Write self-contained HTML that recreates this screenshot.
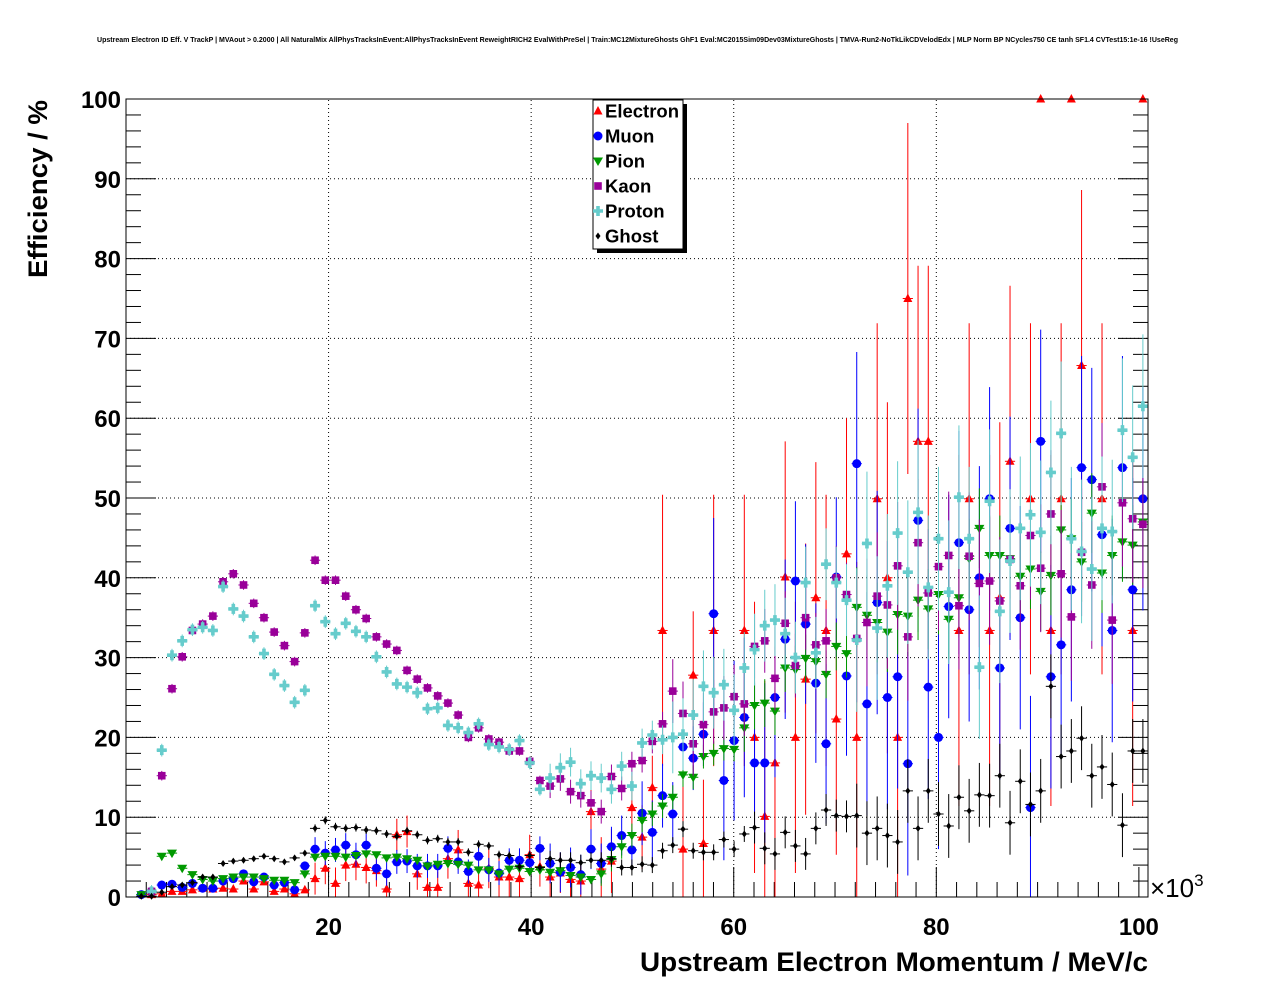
<!DOCTYPE html>
<html><head><meta charset="utf-8"><style>
html,body{margin:0;padding:0;background:#fff;}
svg{display:block;font-family:"Liberation Sans",Arial,sans-serif;}
</style></head><body>
<svg id="chart" width="1276" height="996" viewBox="0 0 1276 996" xmlns="http://www.w3.org/2000/svg">
<rect x="0" y="0" width="1276" height="996" fill="#fff"/>
<text x="97" y="42" font-size="7" font-weight="bold" textLength="1081" lengthAdjust="spacingAndGlyphs">Upstream Electron ID Eff. V TrackP | MVAout &gt; 0.2000 | All NaturalMix AllPhysTracksInEvent:AllPhysTracksInEvent ReweightRICH2 EvalWithPreSel | Train:MC12MixtureGhosts GhF1 Eval:MC2015Sim09Dev03MixtureGhosts | TMVA-Run2-NoTkLikCDVelodEdx | MLP Norm BP NCycles750 CE tanh SF1.4 CVTest15:1e-16 !UseReg</text>
<g id="grid"></g>
<g id="axes"></g>
<g id="series"></g>
<rect x="126" y="99" width="1022" height="798" fill="none" stroke="#000" stroke-width="1"/>
<text transform="translate(47,278) rotate(-90)" font-size="27" font-weight="bold" textLength="178" lengthAdjust="spacingAndGlyphs">Efficiency / %</text>
<text x="640" y="971" font-size="27" font-weight="bold" textLength="508" lengthAdjust="spacingAndGlyphs">Upstream Electron Momentum / MeV/c</text>
<text x="1150" y="897" font-size="26">×10<tspan font-size="17" dy="-11">3</tspan></text>
<g id="legend">
<rect x="597" y="104" width="90" height="149" fill="#000"/>
<rect x="593" y="100" width="90" height="149" fill="#fff" stroke="#000" stroke-width="1"/>
</g>
</svg>
<script>
// ---- data (efficiency %, bins of ~1 GeV, index 0..99) ----
const binWidth = 1.009; // GeV per bin (x10^3 MeV)
const xTicks = [20, 40, 60, 80, 100];
const yTicks = [0, 10, 20, 30, 40, 50, 60, 70, 80, 90, 100];
const seriesNames = ["Electron", "Muon", "Pion", "Kaon", "Proton", "Ghost"];
const N = null;
const electron = [N,N,0.3,0.4,0.7,0.7,0.9,1.1,1.0,1.1,1.0,2.0,1.0,1.9,0.7,1.0,0.4,0.9,2.3,3.6,1.7,4.0,4.1,3.7,3.3,1.0,7.8,8.2,2.9,1.2,1.2,4.8,5.9,1.7,1.5,3.6,2.5,2.5,2.3,5.3,3.8,2.5,3.0,2.2,2.0,10.7,3.5,4.5,N,11.2,7.5,13.7,33.4,N,6.0,27.8,6.7,33.4,N,N,33.4,20.0,10.1,16.8,40.1,20.0,27.3,37.5,33.4,22.3,43.0,20.0,N,49.9,40.0,20.0,75.0,57.1,57.1,N,N,33.4,49.9,N,33.4,37.5,54.6,N,49.9,100,33.4,49.9,100,66.6,N,49.9,N,N,33.4,100];
const muon = [N,0.3,0.7,1.5,1.6,1.2,1.7,1.1,1.1,2.0,2.3,2.9,1.9,2.5,1.5,1.8,0.9,3.9,6.0,5.5,5.9,6.5,5.3,6.5,3.6,2.9,4.4,4.5,3.9,3.9,3.9,6.1,4.4,3.2,5.1,3.4,3.0,4.6,4.6,4.3,6.1,4.2,3.1,3.7,2.8,6.0,4.2,6.3,7.7,5.9,10.5,8.1,12.7,10.4,18.8,17.4,20.4,35.5,14.6,19.6,22.5,16.8,16.8,25.0,32.3,39.6,34.2,26.8,19.2,40.1,27.7,54.3,24.2,36.9,25.0,27.6,16.7,47.2,26.3,20.0,36.4,44.4,36.0,40.0,49.9,28.7,46.2,35.0,11.2,57.1,27.6,31.6,38.5,53.8,52.3,45.4,33.4,53.8,38.5,49.9];
const pion = [N,0.3,0.5,5.1,5.5,3.6,2.8,2.2,2.0,2.3,2.5,2.5,2.5,2.3,2.1,2.1,1.8,2.9,5.0,5.1,5.1,5.0,5.2,5.4,5.3,4.9,5.0,4.8,4.6,3.9,4.1,4.2,4.1,4.0,3.4,3.4,2.9,3.5,3.6,3.2,3.4,3.1,3.3,2.7,2.5,2.2,2.9,4.7,6.3,7.7,9.6,10.4,11.4,12.5,15.3,15.0,17.6,18.0,18.6,18.5,21.2,24.0,24.3,23.3,28.7,28.5,29.9,29.5,27.9,31.4,30.5,36.3,35.3,34.4,33.2,35.4,35.2,37.2,36.1,37.9,34.8,37.5,42.4,46.2,42.8,42.8,42.4,40.2,41.1,38.3,40.3,46.0,44.9,42.0,48.1,40.6,42.8,44.5,44.1,47.0];
const kaon = [N,N,0.7,15.2,26.1,30.1,33.4,34.2,35.2,39.5,40.5,39.1,36.8,35.0,33.2,31.5,29.5,33.1,42.2,39.7,39.7,37.7,36.0,34.9,32.6,31.7,30.9,28.4,27.3,26.2,25.2,24.3,22.8,20.0,21.2,19.8,19.4,18.3,18.3,17.0,14.6,13.9,14.8,13.2,12.7,11.8,10.7,15.1,13.6,16.7,17.1,19.5,21.7,25.8,23.0,19.2,21.6,23.2,23.7,25.1,24.2,31.4,32.1,27.4,34.3,29.0,35.0,31.6,32.1,40.0,37.9,32.4,34.4,37.7,36.6,41.5,32.6,44.4,38.1,41.4,42.8,36.5,42.7,39.3,39.6,37.1,42.3,39.0,45.3,41.2,48.0,40.5,35.1,43.2,39.1,51.4,34.7,49.4,47.4,46.7];
const proton = [N,N,0.7,18.4,30.3,32.1,33.5,33.8,33.4,38.9,36.1,35.2,32.6,30.5,27.9,26.5,24.4,25.9,36.5,34.5,33.0,34.3,33.3,32.6,30.1,28.2,26.7,26.3,25.6,23.6,23.7,21.5,21.2,20.6,21.7,19.1,18.8,18.5,19.6,16.8,13.5,14.9,16.2,16.9,14.2,15.2,14.9,13.5,16.4,13.9,19.3,20.3,19.7,20.0,20.4,22.8,26.4,25.6,26.6,23.4,28.7,31.0,34.0,34.7,33.0,30.0,39.4,30.6,41.7,39.4,37.2,32.2,44.3,33.7,39.0,45.6,40.7,48.2,38.8,44.9,38.2,50.1,44.9,28.8,49.6,35.8,42.1,46.2,47.9,45.7,53.2,58.1,44.9,43.3,41.1,46.2,45.8,58.5,55.1,61.5];
const ghost = [N,0.1,0.1,0.6,1.3,1.5,1.8,2.5,2.5,4.2,4.5,4.6,4.8,5.1,4.8,4.4,4.9,5.5,8.6,9.6,8.8,8.6,8.7,8.4,8.3,7.9,7.6,8.3,7.8,7.1,7.3,6.9,6.9,5.6,6.6,6.4,5.3,5.2,3.8,5.2,3.7,4.8,4.6,4.6,4.3,4.6,4.6,4.8,3.7,3.7,4.1,4.0,5.8,6.5,8.5,5.8,5.6,5.6,7.2,6.0,7.9,8.7,6.1,5.4,8.1,6.4,5.4,8.6,10.9,10.2,10.1,10.2,8.0,8.6,7.7,6.9,13.3,8.6,13.3,10.4,8.9,12.5,10.8,12.8,12.7,15.2,9.3,14.5,11.6,13.3,26.4,17.6,18.3,19.9,15.2,16.3,14.1,9.0,18.3,18.3];
// error ranges: [firstBin, lastBin, error %]
const electronErr = [[0,17,0.4],[18,30,2],[31,44,2.5],[45,51,4],[52,52,17],[53,56,8],[57,57,17],[58,70,17],[71,88,22],[89,89,0],[90,91,22],[92,92,0],[93,98,22],[99,99,0]];
const muonErr = [[0,17,0.5],[18,40,1.5],[41,49,2.5],[50,56,4],[57,57,12],[58,70,10],[71,99,14]];
const pionErr = [[0,45,0.4],[46,59,1.5],[60,70,3],[71,99,5]];
const kaonErr = [[0,40,0.6],[41,52,1.5],[53,70,4],[71,99,8]];
const protonErr = [[0,40,0.8],[41,52,1.8],[53,70,4.5],[71,99,9]];
const ghostErr = [[0,17,0.3],[18,40,0.5],[41,60,1],[61,70,2],[71,99,4]];

// ---- axes ----
const X0 = 126, X1 = 1148, Y0 = 897, Y1 = 99;
const xMax = 100.9, yMax = 100;
const sx = v => X0 + v / xMax * (X1 - X0);
const sy = v => Y0 - v / yMax * (Y0 - Y1);
const NS = "http://www.w3.org/2000/svg";
function mk(tag, attrs, parent) {
  const e = document.createElementNS(NS, tag);
  for (const k in attrs) e.setAttribute(k, attrs[k]);
  parent.appendChild(e);
  return e;
}
const grid = document.getElementById('grid');
const axes = document.getElementById('axes');
const layer = document.getElementById('series');

yTicks.forEach(t => {
  if (t > 0 && t < 100) {
    const g = mk('line', {x1: X0, x2: X1, y1: sy(t), y2: sy(t), stroke: '#000', 'stroke-width': 1, 'stroke-dasharray': '1,3'}, grid);
    
    
  }
  const lab = mk('text', {x: 121, y: sy(t) + 9, 'font-size': 24, 'font-weight': 'bold', 'text-anchor': 'end'}, axes);
  lab.textContent = t;
  
  
});
xTicks.forEach(t => {
  if (t < 100) {
    const g = mk('line', {x1: sx(t), x2: sx(t), y1: Y0, y2: Y1, stroke: '#000', 'stroke-width': 1, 'stroke-dasharray': '1,3'}, grid);
    
    
  }
  const lab = mk('text', {x: sx(t), y: 935, 'font-size': 24, 'font-weight': 'bold', 'text-anchor': 'middle'}, axes);
  lab.textContent = t;
  
  
});
for (let v = 0; v <= 100; v += 2) {
  const L = (v % 10 === 0) ? 30 : 15;
  let t = mk('line', {x1: X0, x2: X0 + L, y1: sy(v), y2: sy(v), stroke: '#000'}, axes);
  
  
  t = mk('line', {x1: X1, x2: X1 - L, y1: sy(v), y2: sy(v), stroke: '#000'}, axes);
  
  
}
for (let v = 0; v <= 100; v += 2) {
  const L = (v % 20 === 0) ? 30 : 15;
  let t = mk('line', {x1: sx(v), x2: sx(v), y1: Y0, y2: Y0 - L, stroke: '#000'}, axes);
  
  
}

// ---- markers ----
function marker(kind, x, y, color, parent) {
  let e;
  if (kind === 'tri-up') e = mk('polygon', {points: `${x},${y-5} ${x-4.5},${y+3.5} ${x+4.5},${y+3.5}`, fill: color}, parent);
  else if (kind === 'circle') e = mk('circle', {cx: x, cy: y, r: 4.5, fill: color}, parent);
  else if (kind === 'tri-down') e = mk('polygon', {points: `${x},${y+5} ${x-5},${y-3.5} ${x+5},${y-3.5}`, fill: color}, parent);
  else if (kind === 'square') e = mk('rect', {x: x-3.8, y: y-3.8, width: 7.6, height: 7.6, fill: color}, parent);
  else if (kind === 'cross') e = mk('path', {d: `M${x-5},${y-1.8}h3.2v-3.2h3.6v3.2h3.2v3.6h-3.2v3.2h-3.6v-3.2h-3.2z`, fill: color}, parent);
  else e = mk('polygon', {points: `${x},${y-3.5} ${x+2.5},${y} ${x},${y+3.5} ${x-2.5},${y}`, fill: color}, parent);
  return e;
}
const defs = [
  {name: 'electron', vals: electron, err: electronErr, color: '#ff0000', kind: 'tri-up'},
  {name: 'muon', vals: muon, err: muonErr, color: '#0000ff', kind: 'circle'},
  {name: 'pion', vals: pion, err: pionErr, color: '#009900', kind: 'tri-down'},
  {name: 'kaon', vals: kaon, err: kaonErr, color: '#990099', kind: 'square'},
  {name: 'proton', vals: proton, err: protonErr, color: '#66cccc', kind: 'cross'},
  {name: 'ghost', vals: ghost, err: ghostErr, color: '#000000', kind: 'diamond'}
];
function errFor(ranges, i) {
  for (const r of ranges) if (i >= r[0] && i <= r[1]) return r[2];
  return 0;
}
defs.forEach(d => {
  const g = mk('g', {}, layer);
  
  
  d.vals.forEach((v, i) => {
    if (v === null) return;
    const x = sx((i + 0.5) * binWidth), y = sy(v);
    const e = errFor(d.err, i);
    const pt = mk('g', {}, g);
    
    
    if (e > 0) {
      const lo = Math.max(0, v - e), hi = Math.min(100, v + e);
      mk('line', {x1: x, x2: x, y1: sy(lo), y2: sy(hi), stroke: d.color, 'stroke-width': 1}, pt);
    }
    mk('line', {x1: sx((i) * binWidth), x2: sx((i + 1) * binWidth), y1: y, y2: y, stroke: d.color, 'stroke-width': 1}, pt);
    marker(d.kind, x, y, d.color, pt);
  });
});

// ---- legend ----
const leg = document.getElementById('legend');
seriesNames.forEach((n, k) => {
  const y = 111 + k * 25;
  const eg = mk('g', {}, leg);
  
  
  marker(defs[k].kind, 598, y, defs[k].color, eg);
  const t = mk('text', {x: 605, y: y + 6.5, 'font-size': 18.5, 'font-weight': 'bold'}, eg);
  t.textContent = n;
});
</script>
</body></html>
